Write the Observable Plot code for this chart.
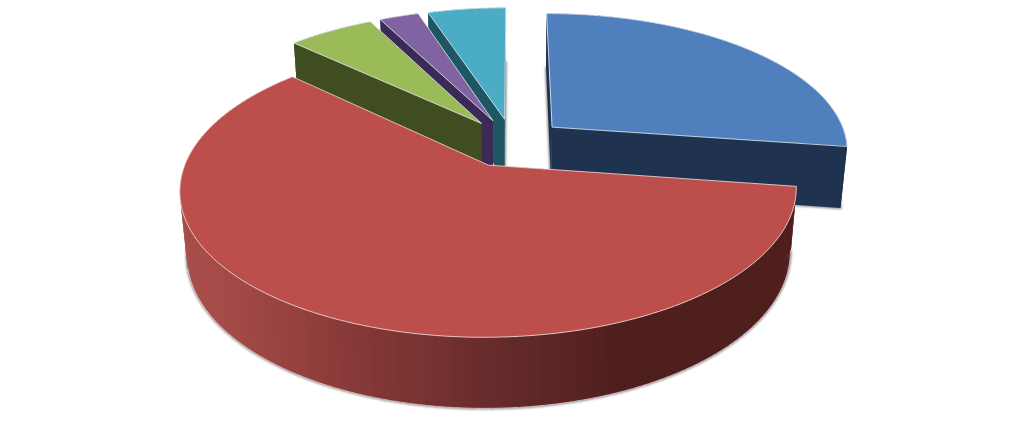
<!DOCTYPE html>
<html>
<head>
<meta charset="utf-8">
<script src="https://cdn.jsdelivr.net/npm/d3@7"></script>
<script src="https://cdn.jsdelivr.net/npm/@observablehq/plot@0.6"></script>
<style>html,body{margin:0;padding:0;background:#fff}svg{display:block}</style>
</head>
<body>
<div id="chart"></div>
<script>
// Slice shares in percent, clockwise from north
const shares = [27.3, 59.7, 5.5, 2.5, 5];
const topColors = ["#4f7fbc", "#bc4f4c", "#9bbb59", "#8064a2", "#4bacc6"];
const wallColors = ["#1f3350", "#4f1f1d", "#404d20", "#3b2a56", "#1f5663"];
const drawOrder = [4, 3, 2, 0, 1];
const redWallStops = [-1.02, -0.62, -0.03, 0.36, 1.05];
const redWallColors = ["#a64d4a", "#8d3c3a", "#652a2a", "#4f1f1d", "#4f1f1d"];

// Scene set-up (pie radius = 1)
const explode = 0.18, thickness = 0.24, camDist = 5.5, sinE = 0.46, cosE = Math.sqrt(1 - sinE * sinE);
const pxPerUnit = 296, originX = 512, originY = 142;

const project = (X, Y, Z) => {
  const w = 1 + (Y * cosE - Z * sinE) / camDist;
  return {u: X / w, v: -(Y * sinE + Z * cosE) / w};
};
const rad = (d) => d * Math.PI / 180;

let acc = 0;
const slices = shares.map((s, i) => {
  const a0 = acc * 3.6, a1 = (acc + s) * 3.6;
  acc += s;
  const mid = rad((a0 + a1) / 2);
  return {i, a0, a1, ox: explode * Math.sin(mid), oy: explode * Math.cos(mid)};
});

let id = 0;
const polygon = (arr, corners, fill) => {
  const key = id++;
  for (const c of corners) arr.push({u: c.u, v: c.v, key, fill});
};

const marks = [];
for (const k of drawOrder) {
  const sl = slices[k];
  const n = Math.ceil((sl.a1 - sl.a0) / 1.5);
  const step = (sl.a1 - sl.a0) / n;
  const angles = d3.range(n + 1).map((j) => sl.a0 + step * j);
  const P = (a, Z) => project(sl.ox + Math.sin(rad(a)), sl.oy + Math.cos(rad(a)), Z);
  const C = (Z) => project(sl.ox, sl.oy, Z);

  const ground = [], body = [], topFace = [], rim = [];
  polygon(ground, [C(-thickness), ...angles.map((a) => P(a, -thickness))], "#808080");

  const quads = [];
  for (const a of [sl.a0, sl.a1]) {
    quads.push({depth: sl.oy + Math.cos(rad(a)) / 2, pts: [C(0), P(a, 0), P(a, -thickness), C(-thickness)], fill: wallColors[k]});
  }
  const shade = d3.scaleLinear(redWallStops, redWallColors).clamp(true);
  for (let j = 0; j < n; j++) {
    const a = angles[j] - 0.25, b = angles[j + 1] + 0.25;
    const from = Math.max(a, sl.a0), to = Math.min(b, sl.a1);
    const midA = (from + to) / 2;
    const fill = k === 1 ? shade(midA > 255 ? -1.02 : P(midA, 0).u) : wallColors[k];
    quads.push({depth: sl.oy + Math.cos(rad(midA)), pts: [P(from, 0), P(to, 0), P(to, -thickness), P(from, -thickness)], fill});
  }
  quads.sort((p, q) => q.depth - p.depth);
  for (const q of quads) polygon(body, q.pts, q.fill);
  polygon(topFace, [C(0), ...angles.map((a) => P(a, 0))], topColors[k]);
  if (k === 1) polygon(rim, angles.filter((a) => a <= 256).map((a) => P(a, -thickness)), "#e8cfcf");

  marks.push(
    Plot.line(ground, {x: "u", y: "v", z: "key", fill: "fill", stroke: "fill", strokeWidth: 2.4, strokeOpacity: 0.8, fillOpacity: 0.8, curve: "linear-closed", imageFilter: "blur(1.1px)"}),
    Plot.line(body, {x: "u", y: "v", z: "key", fill: "fill", curve: "linear-closed"}),
    Plot.line(rim, {x: "u", y: "v", z: "key", stroke: "fill", strokeWidth: 0.9, strokeOpacity: 0.85}),
    Plot.line(topFace, {x: "u", y: "v", z: "key", fill: "fill", stroke: k === 1 ? "#f0d6d4" : "#dfe8f2", strokeWidth: 1, strokeOpacity: 0.85, curve: "linear-closed"})
  );
}

const chart = Plot.plot({
  width: 1023,
  height: 433,
  margin: 0,
  x: {axis: null, domain: [(0 - originX) / pxPerUnit, (1023 - originX) / pxPerUnit], range: [0, 1023]},
  y: {axis: null, domain: [(0 - originY) / pxPerUnit, (433 - originY) / pxPerUnit], range: [0, 433]},
  color: {type: "identity"},
  style: {background: "#fff"},
  marks
});
document.getElementById("chart").append(chart);
</script>
</body>
</html>
